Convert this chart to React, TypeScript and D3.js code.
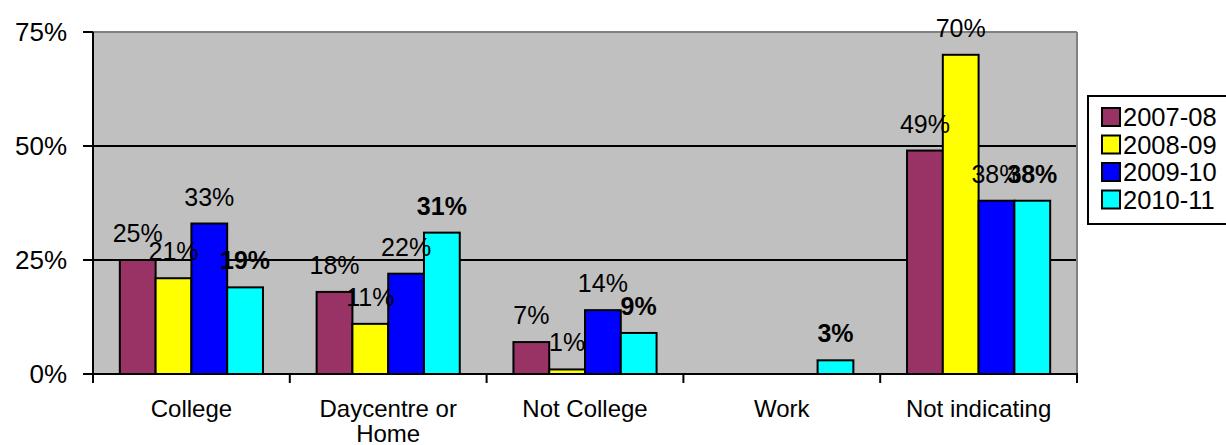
import React from "react";
import * as d3 from "d3";

const categories = ["College", "Daycentre or Home", "Not College", "Work", "Not indicating"];
const categoryLines = [["College"], ["Daycentre or", "Home"], ["Not College"], ["Work"], ["Not indicating"]];
const seriesNames = ["2007-08", "2008-09", "2009-10", "2010-11"];
const seriesColors = ["#993366", "#FFFF00", "#0000FF", "#00FFFF"];
const seriesBold = [false, false, false, true];
const s2007: (number | null)[] = [25, 18, 7, null, 49];
const s2008: (number | null)[] = [21, 11, 1, null, 70];
const s2009: (number | null)[] = [33, 22, 14, null, 38];
const s2010: (number | null)[] = [19, 31, 9, 3, 38];
const seriesValues = [s2007, s2008, s2009, s2010];
const yTicks = [0, 25, 50, 75];

const W = 1226, H = 445;
const L = 93, R = 1077, T = 32, B = 374;
const FONT = "'Liberation Sans', Arial, sans-serif";

export default function App() {
  const x = d3.scaleBand<string>().domain(categories).range([L, R]).paddingInner(0).paddingOuter(0);
  const xi = d3.scaleBand<string>().domain(seriesNames).range([0, x.bandwidth()]).paddingInner(0).paddingOuter(0.75);
  const y = d3.scaleLinear().domain([0, 75]).range([B, T]);

  return (
    <svg width={W} height={H} style={{ position: "absolute", left: 0, top: 0, background: "#fff" }} fontFamily={FONT}>
      <rect x={L} y={T} width={R - L} height={B - T} fill="#C0C0C0" />
      {yTicks.filter(t => t > 0 && t < 75).map(t => (
        <line key={t} x1={L} x2={R} y1={y(t)} y2={y(t)} stroke="#000" strokeWidth={2} />
      ))}
      <line x1={L} x2={R} y1={T} y2={T} stroke="#808080" strokeWidth={2} />
      <line x1={R} x2={R} y1={T} y2={B} stroke="#808080" strokeWidth={2} />
      {seriesValues.map((vals, si) =>
        vals.map((v, ci) => {
          if (v == null) return null;
          const bx = (x(categories[ci]) as number) + (xi(seriesNames[si]) as number);
          return (
            <rect key={`${si}-${ci}`} x={bx} y={y(v)} width={xi.bandwidth()} height={B - y(v)}
              fill={seriesColors[si]} stroke="#000" strokeWidth={2} />
          );
        })
      )}
      <line x1={L} x2={L} y1={T} y2={B + 1} stroke="#000" strokeWidth={2} />
      <line x1={L - 10} x2={R + 1} y1={B} y2={B} stroke="#000" strokeWidth={2} />
      {yTicks.map(t => (
        <g key={t}>
          <line x1={L - 10} x2={L} y1={y(t)} y2={y(t)} stroke="#000" strokeWidth={2} />
          <text x={67} y={y(t) + 9} textAnchor="end" fontSize={26}>{t}%</text>
        </g>
      ))}
      {[...categories.map(c => x(c) as number), R].map((px, i) => (
        <line key={i} x1={px} x2={px} y1={B} y2={B + 9} stroke="#000" strokeWidth={2} />
      ))}
      {categories.map((c, ci) => (
        <text key={c} x={(x(c) as number) + x.bandwidth() / 2} textAnchor="middle" fontSize={24}>
          {categoryLines[ci].map((ln, li) => (
            <tspan key={li} x={(x(c) as number) + x.bandwidth() / 2} y={417 + li * 25}>{ln}</tspan>
          ))}
        </text>
      ))}
      {seriesValues.map((vals, si) =>
        vals.map((v, ci) => {
          if (v == null) return null;
          const bx = (x(categories[ci]) as number) + (xi(seriesNames[si]) as number) + xi.bandwidth() / 2;
          return (
            <text key={`l${si}-${ci}`} x={bx} y={y(v) - 18} textAnchor="middle" fontSize={25}
              fontWeight={seriesBold[si] ? "bold" : "normal"}>{v}%</text>
          );
        })
      )}
      <rect x={1088} y={96} width={150} height={128} fill="#fff" stroke="#000" strokeWidth={2} />
      {seriesNames.map((s, i) => (
        <g key={s}>
          <rect x={1102} y={108 + i * 27.5} width={18} height={18} fill={seriesColors[i]} stroke="#000" strokeWidth={2} />
          <text x={1123} y={126 + i * 27.5} fontSize={25.5}>{s}</text>
        </g>
      ))}
    </svg>
  );
}
